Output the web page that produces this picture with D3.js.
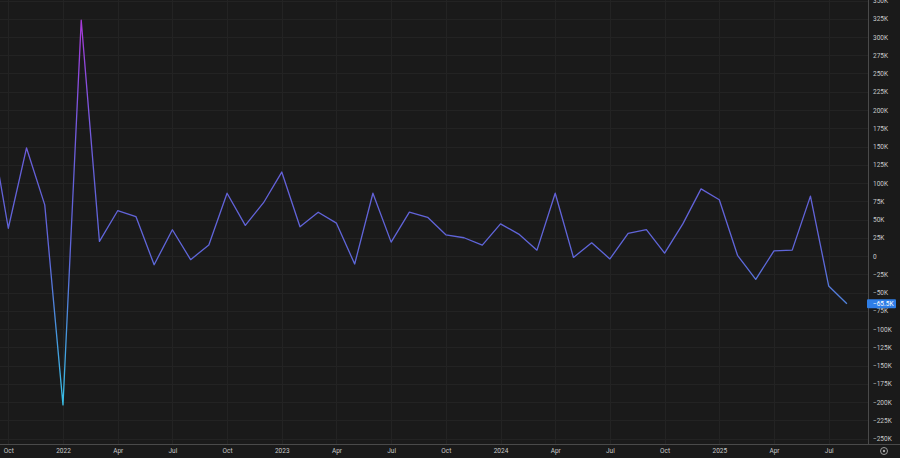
<!DOCTYPE html>
<html>
<head>
<meta charset="utf-8">
<script src="https://cdn.jsdelivr.net/npm/d3@7"></script>
<style>
  html, body { margin: 0; padding: 0; background: #1a1a1a; }
  svg { display: block; }
  text { font-family: Roboto, "Open Sans", sans-serif; }
</style>
</head>
<body>
<svg id="chart" width="900" height="458"></svg>
<script>
// Monthly values, Sep 2021 .. Aug 2025
const months = [
  "2021-09","2021-10","2021-11","2021-12",
  "2022-01","2022-02","2022-03","2022-04","2022-05","2022-06","2022-07","2022-08","2022-09","2022-10","2022-11","2022-12",
  "2023-01","2023-02","2023-03","2023-04","2023-05","2023-06","2023-07","2023-08","2023-09","2023-10","2023-11","2023-12",
  "2024-01","2024-02","2024-03","2024-04","2024-05","2024-06","2024-07","2024-08","2024-09","2024-10","2024-11","2024-12",
  "2025-01","2025-02","2025-03","2025-04","2025-05","2025-06","2025-07","2025-08"
];
const values = [
  183000, 38000, 148000, 70000,
  -204000, 323000, 20000, 62000, 54000, -12000, 36000, -5000, 15000, 86000, 42000, 73000,
  115000, 40000, 60000, 45000, -11000, 86000, 19000, 60000, 53000, 29000, 25000, 15000,
  44000, 30000, 8000, 86000, -2000, 18000, -4000, 31000, 36000, 4000, 44000, 92000,
  77000, 1000, -32000, 7000, 8000, 82000, -41000, -65500
];
const xTickIndex = [1, 4, 7, 10, 13, 16, 19, 22, 25, 28, 31, 34, 37, 40, 43, 46];
const xTickLabels = ["Oct","2022","Apr","Jul","Oct","2023","Apr","Jul","Oct","2024","Apr","Jul","Oct","2025","Apr","Jul"];
const yTicks = d3.range(-250000, 350001, 25000);
const lastLabel = "\u221265.5K";

const W = 900, H = 458;
const plotRight = 868, plotBottom = 444;

const svg = d3.select("#chart");
svg.append("rect").attr("width", W).attr("height", H).attr("fill", "#1a1a1a");

const x = d3.scaleLinear().domain([1, 47]).range([8.3, 846.9]);
const y = d3.scaleLinear().domain([-250000, 350000]).range([438.5, 0.5]);

const fmtY = v => v === 0 ? "0" : (v < 0 ? "\u2212" : "") + Math.abs(v / 1000) + "K";

// grid
const grid = svg.append("g");
grid.selectAll("line.h").data(yTicks).enter().append("line")
  .attr("x1", 0).attr("x2", plotRight)
  .attr("y1", d => Math.round(y(d)) + 0.5).attr("y2", d => Math.round(y(d)) + 0.5)
  .attr("stroke", "#232323").attr("stroke-width", 1);
grid.selectAll("line.v").data(xTickIndex).enter().append("line")
  .attr("y1", 0).attr("y2", plotBottom)
  .attr("x1", d => Math.round(x(d)) + 0.5).attr("x2", d => Math.round(x(d)) + 0.5)
  .attr("stroke", "#232323").attr("stroke-width", 1);

// gradient for the line (by vertical position)
const defs = svg.append("defs");
const grad = defs.append("linearGradient").attr("id", "lg")
  .attr("gradientUnits", "userSpaceOnUse")
  .attr("x1", 0).attr("x2", 0).attr("y1", y(325000)).attr("y2", y(-205000));
[[0, "#a838d8"], [0.25, "#7a58e0"], [0.4, "#6460d8"], [0.62, "#5e66da"], [0.8, "#4892dc"], [1, "#38c0e6"]]
  .forEach(([o, c]) => grad.append("stop").attr("offset", o).attr("stop-color", c));

const clip = defs.append("clipPath").attr("id", "plotclip");
clip.append("rect").attr("x", 0).attr("y", 0).attr("width", plotRight).attr("height", plotBottom);

const line = d3.line().x((d, i) => x(i)).y(d => y(d));
svg.append("path").datum(values)
  .attr("clip-path", "url(#plotclip)")
  .attr("d", line)
  .attr("fill", "none")
  .attr("stroke", "url(#lg)")
  .attr("stroke-width", 1.3)
  .attr("stroke-linejoin", "round");

// right axis
const yAxis = d3.axisRight(y).tickValues(yTicks).tickFormat(fmtY).tickSize(0).tickPadding(5);
const ya = svg.append("g").attr("transform", `translate(${plotRight},0)`).call(yAxis);
ya.select(".domain").remove();
ya.selectAll("text").attr("fill", "#c8c8c8").style("font-size", "6.5px");
svg.append("line").attr("x1", plotRight + 0.5).attr("x2", plotRight + 0.5)
  .attr("y1", 0).attr("y2", plotBottom).attr("stroke", "#4a4a4a");

// bottom axis
const xAxis = d3.axisBottom(x).tickValues(xTickIndex)
  .tickFormat((d, i) => xTickLabels[i]).tickSize(0).tickPadding(4);
const xa = svg.append("g").attr("transform", `translate(0,${plotBottom})`).call(xAxis);
xa.select(".domain").remove();
xa.selectAll("text").attr("fill", "#c8c8c8").style("font-size", "6.5px");
svg.append("line").attr("x1", 0).attr("x2", W).attr("y1", plotBottom + 0.5).attr("y2", plotBottom + 0.5)
  .attr("stroke", "#4a4a4a");

// last value label
const ly = y(values[values.length - 1]);
svg.append("rect").attr("x", plotRight - 1).attr("y", ly - 4.5).attr("width", 29).attr("height", 9)
  .attr("rx", 1).attr("fill", "#2f7ee6");
svg.append("text").attr("x", plotRight + 5).attr("y", ly + 2.3)
  .attr("fill", "#ffffff").style("font-size", "6.5px").text(lastLabel);

// settings icon
const ic = svg.append("g").attr("transform", "translate(884,451)");
ic.append("circle").attr("r", 3.5).attr("fill", "none").attr("stroke", "#aaaaaa").attr("stroke-width", 0.9);
ic.append("circle").attr("r", 1.2).attr("fill", "#aaaaaa");
</script>
</body>
</html>
